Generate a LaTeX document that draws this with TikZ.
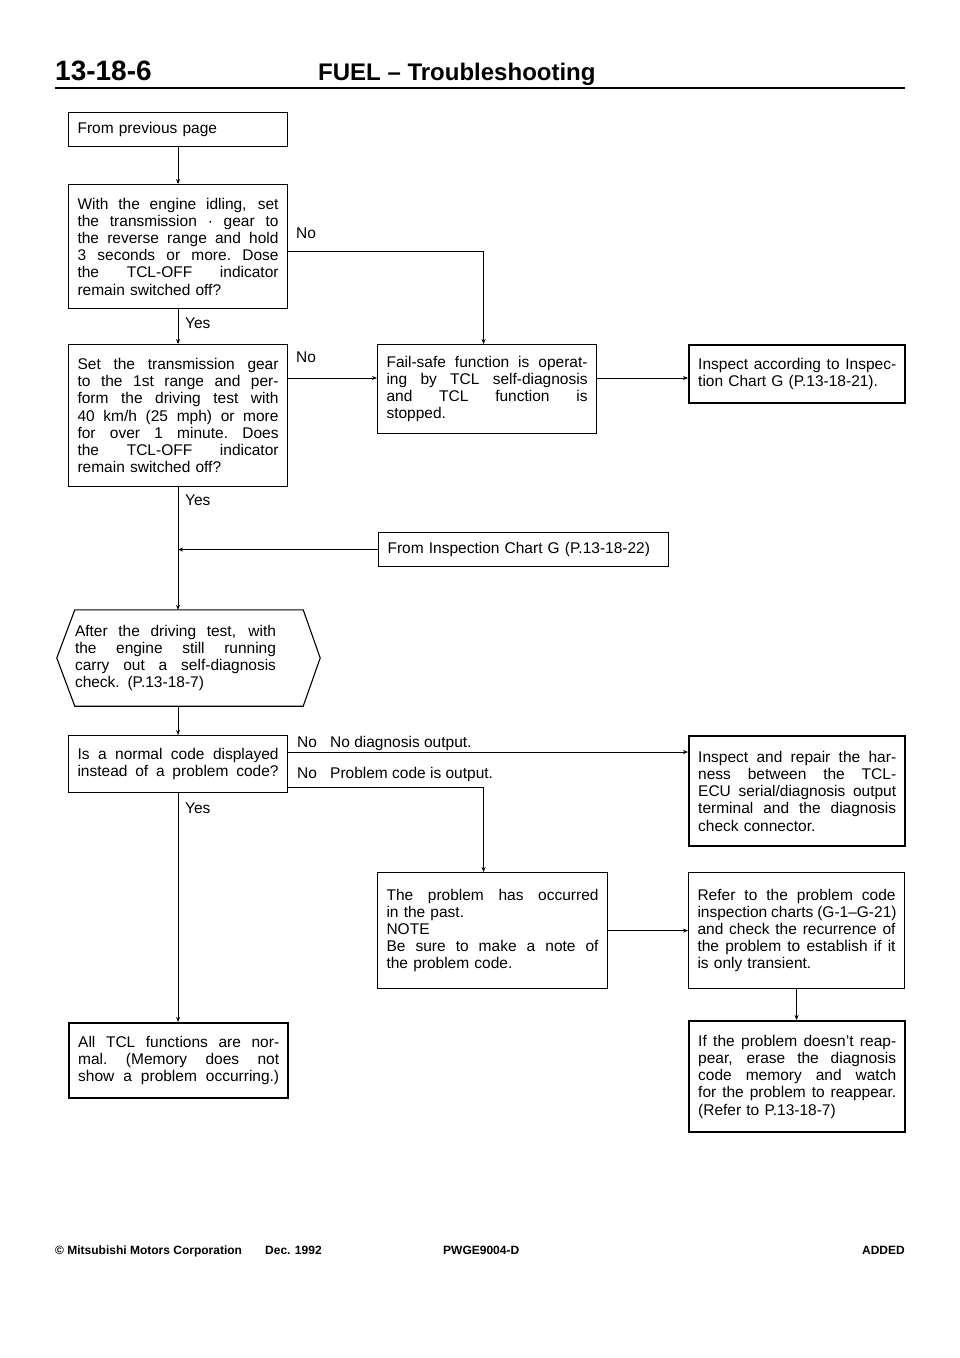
\documentclass[tikz,border=0pt]{standalone}
\usepackage{fontspec}
\setmainfont{Liberation Sans}
\usetikzlibrary{arrows.meta,calc}
\newcommand{\J}[2][201pt]{\makebox[#1][s]{\spaceskip=0.25em plus 1fil\relax\xspaceskip=\spaceskip #2}}
\newcommand{\fs}{\fontsize{15.5}{17.2}\selectfont}
\begin{document}
\begin{tikzpicture}[x=1pt,y=-1pt,
  box/.style={draw, line width=1.1pt, anchor=north west, inner xsep=9pt, inner ysep=0pt, align=left, font=\fs},
  thick box/.style={box, line width=2.4pt},
  lab/.style={font=\fs, anchor=base west, inner sep=0pt},
  conn/.style={line width=0.9pt},
  arr/.style={conn, -{Stealth[length=5pt,width=4pt]}}]
\useasboundingbox (0,0) rectangle (960,1358);

% header
\node[anchor=base west, inner sep=0pt, font=\fontsize{28}{30}\selectfont\bfseries] (pg) at (55,80) {13-18-6};
\node[anchor=base west, inner sep=0pt, font=\fontsize{24}{26}\selectfont\bfseries] (ttl) at (318,80) {FUEL – Troubleshooting};
\coordinate (rl) at (55,88);
\coordinate (rr) at (905,88);
\draw[line width=2.5pt] (rl) -- (rr);

% boxes
\node[box, text width=201pt, minimum height=34pt] (b1) at (68,112) {From previous page};
\node[box, text width=201pt, minimum height=124pt] (b2) at (68,184) {\J{With the engine idling, set}\\\J{the transmission · gear to}\\\J{the reverse range and hold}\\\J{3 seconds or more. Dose}\\\J{the TCL-OFF indicator}\\remain switched off?};
\node[box, text width=201pt, minimum height=142pt] (b3) at (68,344) {\J{Set the transmission gear}\\\J{to the 1st range and per-}\\\J{form the driving test with}\\\J{40 km/h (25 mph) or more}\\\J{for over 1 minute. Does}\\\J{the TCL-OFF indicator}\\remain switched off?};
\node[box, text width=201pt, minimum height=89pt] (fs) at (377,344) {\J{Fail-safe function is operat-}\\\J{ing by TCL self-diagnosis}\\\J{and TCL function is}\\stopped.};
\node[thick box, text width=198pt, minimum height=58pt] (ig) at (688,344) {\J[198pt]{Inspect according to Inspec-}\\tion Chart G (P.13-18-21).};
\node[box, text width=272pt, minimum height=34pt] (fig) at (378,532) {From Inspection Chart G (P.13-18-22)};

% hexagon
\node[inner sep=0pt, text width=201pt, align=left, font=\fs, minimum height=96pt] (hx) at (175.5,658) {\J{After the driving test, with}\\\J{the engine still running}\\\J{carry out a self-diagnosis}\\check. (P.13-18-7)};
\draw[line width=1.1pt] (hx.north west) -- ([xshift=27pt]hx.north east) -- ([xshift=44pt]hx.east) -- ([xshift=27pt]hx.south east) -- (hx.south west) -- ([xshift=-18pt]hx.west) -- cycle;

\node[box, text width=201pt, minimum height=57pt] (b4) at (68,735) {\J{Is a normal code displayed}\\\J{instead of a problem code?}};
\node[thick box, text width=198pt, minimum height=110pt] (hn) at (688,735) {\J[198pt]{Inspect and repair the har-}\\\J[198pt]{ness between the TCL-}\\\J[198pt]{ECU serial/diagnosis output}\\\J[198pt]{terminal and the diagnosis}\\check connector.};
\node[box, text width=212pt, minimum height=116pt] (pb) at (377,872) {\J[212pt]{The problem has occurred}\\in the past.\\NOTE\\\J[212pt]{Be sure to make a note of}\\the problem code.};
\node[box, text width=198pt, minimum height=116pt] (rf) at (688,872) {\J[198pt]{Refer to the problem code}\\\J[198pt]{inspection charts (G-1–G-21)}\\\J[198pt]{and check the recurrence of}\\\J[198pt]{the problem to establish if it}\\is only transient.};
\node[thick box, text width=201pt, minimum height=75pt] (tc) at (68,1022) {\J{All TCL functions are nor-}\\\J{mal. (Memory does not}\\\J{show a problem occurring.)}};
\node[thick box, text width=198pt, minimum height=111pt] (ip) at (688,1020) {\J[198pt]{If the problem doesn’t reap-}\\\J[198pt]{pear, erase the diagnosis}\\\J[198pt]{code memory and watch}\\\J[198pt]{for the problem to reappear.}\\(Refer to P.13-18-7)};

% labels
\node[lab] (n1) at (296,238) {No};
\node[lab] (y1) at (185,328) {Yes};
\node[lab] (n2) at (296,362) {No};
\node[lab] (y2) at (185,505) {Yes};
\node[lab] (n3) at (297,747) {No};
\node[lab] (t3) at (330,747) {No diagnosis output.};
\node[lab] (n4) at (297,778) {No};
\node[lab] (t4) at (330,778) {Problem code is output.};
\node[lab] (y3) at (185,813) {Yes};

% connectors
\draw[arr] (b1.south) -- (b2.north);
\draw[arr] (b2.south) -- (b3.north);
\draw[arr] ([yshift=-5pt]b2.east) -| ([xshift=-3.5pt]fs.north);
\draw[arr] ([yshift=-34pt]b3.north east) -- ([yshift=-34pt]fs.north west);
\draw[arr] ([yshift=-34pt]fs.north east) -- ([yshift=-34pt]ig.north west);
\draw[arr] (b3.south) -- (b3.south |- hx.north);
\draw[arr] (fig.west) -- (fig.west -| b3.south);
\draw[arr] (hx.south -| b4.north) -- (b4.north);
\draw[arr] ([yshift=-17pt]b4.north east) -- ([yshift=-17pt]hn.north west);
\draw[arr] ([yshift=-52pt]b4.north east) -| ([xshift=-9pt]pb.north);
\draw[arr] (b4.south) -- (b4.south |- tc.north);
\draw[arr] (pb.east) -- (rf.west);
\draw[arr] (rf.south) -- (rf.south |- ip.north);

% footer
\node[anchor=base west, inner sep=0pt, font=\fontsize{12}{14}\selectfont\bfseries] (f1) at (55,1254) {© Mitsubishi Motors Corporation};
\node[anchor=base west, inner sep=0pt, font=\fontsize{12}{14}\selectfont\bfseries] (f2) at (265,1254) {Dec. 1992};
\node[anchor=base west, inner sep=0pt, font=\fontsize{12}{14}\selectfont\bfseries] (f3) at (443,1254) {PWGE9004-D};
\node[anchor=base east, inner sep=0pt, font=\fontsize{12}{14}\selectfont\bfseries] (f4) at (905,1254) {ADDED};
\end{tikzpicture}
\end{document}
